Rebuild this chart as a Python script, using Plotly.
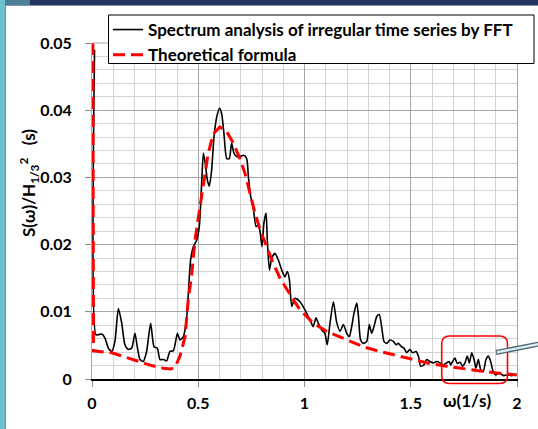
import plotly.graph_objects as go

# ---------------- data ----------------
fft_w = [0.012, 0.018, 0.03, 0.046, 0.061, 0.077, 0.093, 0.108, 0.124, 0.14, 0.155, 0.171, 0.187,
         0.202, 0.213, 0.226, 0.241, 0.257, 0.276, 0.292, 0.307, 0.32, 0.336, 0.351, 0.367, 0.383,
         0.402, 0.414, 0.43, 0.446, 0.453, 0.464, 0.477, 0.493, 0.505, 0.516, 0.524, 0.532, 0.543,
         0.552, 0.563, 0.574, 0.587, 0.6, 0.61, 0.621, 0.634, 0.646, 0.657, 0.668, 0.681, 0.696,
         0.715, 0.728, 0.736, 0.747, 0.76, 0.772, 0.783, 0.791, 0.8, 0.809, 0.819, 0.825, 0.835,
         0.846, 0.861, 0.877, 0.893, 0.908, 0.919, 0.929, 0.94, 0.955, 0.979, 1.002, 1.026, 1.041,
         1.054, 1.065, 1.081, 1.096, 1.107, 1.12, 1.136, 1.151, 1.167, 1.183, 1.199, 1.211, 1.222,
         1.233, 1.246, 1.254, 1.264, 1.277, 1.293, 1.305, 1.316, 1.327, 1.34, 1.352, 1.363, 1.374,
         1.387, 1.402, 1.418, 1.431, 1.441, 1.457, 1.468, 1.481, 1.496, 1.509, 1.525, 1.536, 1.547,
         1.562, 1.575, 1.591, 1.606, 1.622, 1.638, 1.653, 1.669, 1.681, 1.688, 1.697, 1.708, 1.719,
         1.732, 1.744, 1.755, 1.766, 1.776, 1.787, 1.798, 1.807, 1.818, 1.829, 1.841, 1.854, 1.865,
         1.876, 1.888, 1.9, 1.912, 1.923, 1.936, 1.952, 1.975, 1.998]
fft_s = [0.049, 0.0066, 0.0066, 0.0067, 0.0061, 0.0046, 0.0041, 0.0056, 0.0105, 0.0083, 0.0051,
         0.0044, 0.0046, 0.0068, 0.0048, 0.0029, 0.0026, 0.0041, 0.0083, 0.0048, 0.0046, 0.0029,
         0.0029, 0.0027, 0.0041, 0.0042, 0.0068, 0.0058, 0.0063, 0.0093, 0.0125, 0.0177, 0.0197,
         0.0207, 0.0227, 0.0291, 0.0336, 0.0323, 0.0296, 0.0287, 0.0311, 0.036, 0.039, 0.0403,
         0.0395, 0.0365, 0.0328, 0.0328, 0.0351, 0.0336, 0.0331, 0.0331, 0.0333, 0.0328, 0.0301,
         0.0271, 0.0252, 0.0227, 0.0229, 0.0219, 0.0197, 0.0232, 0.0247, 0.0207, 0.0162, 0.018,
         0.0187, 0.0177, 0.0162, 0.0152, 0.016, 0.0148, 0.0108, 0.012, 0.0115, 0.0103, 0.0088,
         0.0078, 0.0091, 0.0083, 0.0073, 0.0068, 0.0051, 0.0083, 0.0115, 0.0085, 0.0071, 0.0081,
         0.0068, 0.0063, 0.0078, 0.0098, 0.0113, 0.0093, 0.0058, 0.0053, 0.0056, 0.0081, 0.0068,
         0.0078, 0.0093, 0.0096, 0.0078, 0.0056, 0.0053, 0.0058, 0.0056, 0.0051, 0.0053, 0.0048,
         0.0046, 0.0039, 0.0044, 0.0039, 0.0041, 0.0034, 0.0019, 0.0021, 0.0029, 0.0026, 0.0024,
         0.0026, 0.0024, 0.0021, 0.0024, 0.0026, 0.0021, 0.0026, 0.0031, 0.0023, 0.0025, 0.0019,
         0.0024, 0.0034, 0.0024, 0.0039, 0.0029, 0.0016, 0.0029, 0.0014, 0.0011, 0.0029, 0.0034,
         0.0026, 0.0011, 0.0006, 0.0009, 0.0008, 0.0005, 0.0006, 0.0005, 0.0007]

theo_w = [0.004, 0.007, 0.093, 0.132, 0.195, 0.25, 0.281, 0.336, 0.37, 0.39, 0.414, 0.438, 0.453,
          0.469, 0.485, 0.508, 0.524, 0.547, 0.571, 0.602, 0.634, 0.665, 0.696, 0.72, 0.744, 0.767,
          0.791, 0.822, 0.853, 0.885, 0.916, 0.947, 0.979, 1.041, 1.104, 1.151, 1.199, 1.277, 1.355,
          1.434, 1.512, 1.591, 1.669, 1.747, 1.826, 1.904, 1.999]
theo_s = [0.05, 0.0042, 0.0039, 0.0035, 0.0029, 0.0024, 0.002, 0.0016, 0.0015, 0.0017, 0.0034,
          0.0063, 0.0118, 0.0155, 0.0207, 0.0256, 0.0291, 0.0336, 0.0365, 0.0375, 0.0368, 0.0351,
          0.0328, 0.0306, 0.0276, 0.0247, 0.0222, 0.0197, 0.0172, 0.015, 0.0133, 0.0118, 0.0103,
          0.0083, 0.0071, 0.0065, 0.0058, 0.0048, 0.0041, 0.0035, 0.0029, 0.0023, 0.0019, 0.0015,
          0.0012, 0.0009, 0.0006]

series_names = ["Spectrum analysis of irregular time series by FFT", "Theoretical formula"]
x_ticks = [0, 0.5, 1, 1.5, 2]
y_ticks = [0, 0.01, 0.02, 0.03, 0.04, 0.05]

# ---------------- layout geometry ----------------
W, H = 538, 429
ML, MR, MT, MB = 92, 21, 43, 50
PW, PH = W - ML - MR, H - MT - MB


def px(xp):
    return (xp - ML) / PW


def py(yp):
    return (H - MB - yp) / PH


FONT = "Lato"
BOLD = dict(family=FONT, weight="bold", color="#000000")

fig = go.Figure()
fig.add_trace(go.Scatter(x=fft_w, y=fft_s, mode="lines", name=series_names[0], legendgroup="a",
                         line=dict(color="#000000", width=1.6, shape="spline", smoothing=0.6)))
fig.add_trace(go.Scatter(x=theo_w, y=theo_s, mode="lines", name=series_names[1], legendgroup="b",
                         line=dict(color="#ff0000", width=3, dash="12px,6px")))

MAJ = "#a6a6a6"
MIN = "#d4d4d4"

fig.update_layout(
    width=W, height=H,
    margin=dict(l=ML, r=MR, t=MT, b=MB, pad=0),
    paper_bgcolor="#ffffff", plot_bgcolor="#ffffff",
    showlegend=True,
    legend=dict(x=px(108), y=py(12), xanchor="left", yanchor="top",
                bgcolor="rgba(0,0,0,0)", borderwidth=0,
                font=dict(size=17, **BOLD), tracegroupgap=0),
    xaxis=dict(range=[0, 2], tickvals=x_ticks, ticktext=[str(v) for v in x_ticks],
               showgrid=True, gridcolor=MAJ, gridwidth=1,
               minor=dict(dtick=0.1, showgrid=True, gridcolor=MIN, gridwidth=1),
               zeroline=False, showline=True, linecolor="#000000", linewidth=1.5,
               ticks="outside", ticklen=6, tickcolor="#8c8c8c",
               tickfont=dict(size=16, **BOLD), ticklabelstandoff=3),
    yaxis=dict(range=[0, 0.05], tickvals=y_ticks, ticktext=["0", "0.01", "0.02", "0.03", "0.04", "0.05"],
               showgrid=True, gridcolor=MAJ, gridwidth=1,
               minor=dict(dtick=0.002, showgrid=True, gridcolor=MIN, gridwidth=1),
               zeroline=False, showline=True, linecolor=MAJ, linewidth=1, mirror=True,
               ticks="outside", ticklen=6, tickcolor="#8c8c8c",
               tickfont=dict(size=16, **BOLD), ticklabelstandoff=10),
)

shapes = []
# top border of plot area (gray)
shapes.append(dict(type="line", xref="paper", yref="paper", x0=0, x1=1, y0=1, y1=1,
                   line=dict(color=MAJ, width=1)))
# legend frame
shapes.append(dict(type="rect", xref="paper", yref="paper", x0=px(108.5), x1=px(534), y0=py(63.5), y1=py(15),
                   fillcolor="#ffffff", line=dict(color="#000000", width=1), layer="above"))
# decorative slide frame: top navy strip, left teal strip
shapes.append(dict(type="rect", xref="paper", yref="paper", x0=px(0), x1=px(W), y0=py(5), y1=py(0),
                   fillcolor="#24345e", line=dict(width=0), layer="above"))
shapes.append(dict(type="rect", xref="paper", yref="paper", x0=px(0), x1=px(30), y0=py(5), y1=py(0),
                   fillcolor="#4f7f96", line=dict(width=0), layer="above"))
shapes.append(dict(type="rect", xref="paper", yref="paper", x0=px(0), x1=px(5), y0=py(H), y1=py(0),
                   fillcolor="#6cc1cf", line=dict(width=0), layer="above"))
shapes.append(dict(type="line", xref="paper", yref="paper", x0=px(5.5), x1=px(5.5), y0=py(H), y1=py(5),
                   line=dict(color="#6f8f9c", width=1), layer="above"))
shapes.append(dict(type="line", xref="paper", yref="paper", x0=px(5), x1=px(W), y0=py(5.5), y1=py(5.5),
                   line=dict(color="#8090a8", width=1), layer="above"))

# red rounded highlight box
bx0, bx1, by0, by1 = px(441.7), px(507.5), py(383.5), py(336)
rx, ry = 8 / PW, 8 / PH
path = (f"M{bx0+rx},{by1} L{bx1-rx},{by1} Q{bx1},{by1} {bx1},{by1-ry} L{bx1},{by0+ry} "
        f"Q{bx1},{by0} {bx1-rx},{by0} L{bx0+rx},{by0} Q{bx0},{by0} {bx0},{by0+ry} "
        f"L{bx0},{by1-ry} Q{bx0},{by1} {bx0+rx},{by1} Z")
shapes.append(dict(type="path", xref="paper", yref="paper", path=path,
                   line=dict(color="#ff0000", width=1.6), layer="above"))
# callout bar
shapes.append(dict(type="line", xref="paper", yref="paper", x0=px(496), y0=py(352.5), x1=px(542), y1=py(343.5),
                   line=dict(color="#4d6470", width=5), layer="above"))
shapes.append(dict(type="line", xref="paper", yref="paper", x0=px(497), y0=py(352.3), x1=px(542), y1=py(343.5),
                   line=dict(color="#d9eef2", width=2.4), layer="above"))
fig.update_layout(shapes=shapes)

fig.add_annotation(xref="paper", yref="paper", x=px(29), y=py(183), showarrow=False, textangle=-90,
                   text="S(ω)/H<sub>1/3</sub><sup>2</sup>   (s)", font=dict(size=17, **BOLD),
                   xanchor="center", yanchor="middle")
fig.add_annotation(xref="paper", yref="paper", x=px(467), y=py(400), showarrow=False,
                   text="ω(1/s)", font=dict(size=17, **BOLD), xanchor="center", yanchor="middle")

fig.write_html("out.html")
